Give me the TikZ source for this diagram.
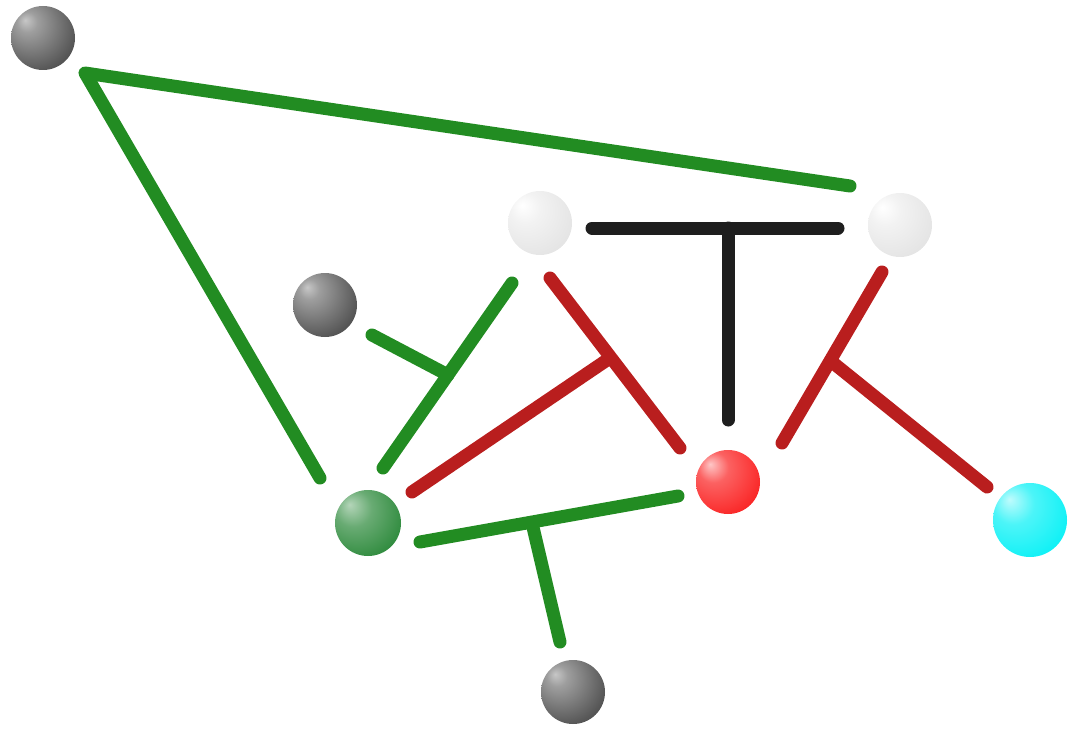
\documentclass[tikz,border=0pt]{standalone}
\definecolor{gstk}{RGB}{34,140,34}
\definecolor{rstk}{RGB}{185,30,30}
\definecolor{kstk}{RGB}{30,30,30}
\definecolor{redb}{RGB}{250,30,30}
\definecolor{cyanb}{RGB}{0,240,245}
\definecolor{greenb}{RGB}{40,135,55}
\pgfdeclareradialshading{balldark}{\pgfpoint{-14bp}{14bp}}{color(0bp)=(black!22); color(8bp)=(black!38); color(32bp)=(black!65); color(52bp)=(black!85); color(70bp)=(black!90)}
\pgfdeclareradialshading{balllight}{\pgfpoint{-14bp}{14bp}}{color(0bp)=(white); color(12bp)=(black!5); color(45bp)=(black!13); color(70bp)=(black!22)}
\pgfdeclareradialshading{ballred}{\pgfpoint{-14bp}{14bp}}{color(0bp)=(redb!25!white); color(12bp)=(redb!70!white); color(38bp)=(redb); color(70bp)=(redb!85!black)}
\pgfdeclareradialshading{ballcyan}{\pgfpoint{-14bp}{14bp}}{color(0bp)=(cyanb!25!white); color(14bp)=(cyanb!70!white); color(40bp)=(cyanb); color(70bp)=(cyanb!92!black)}
\pgfdeclareradialshading{ballgreen}{\pgfpoint{-14bp}{14bp}}{color(0bp)=(greenb!35!white); color(14bp)=(greenb!70!white); color(38bp)=(greenb); color(70bp)=(greenb!75!black)}
\begin{document}
\begin{tikzpicture}[x=1pt,y=-1pt,
  ball/.style={circle,minimum size=64pt,inner sep=0pt},
  stick/.style={line width=13pt,line cap=round,line join=round},
  gstick/.style={stick,draw=gstk},
  rstick/.style={stick,draw=rstk},
  kstick/.style={stick,draw=kstk}]
\useasboundingbox (0,0) rectangle (1068,733);
% spheres
\node[ball,shading=balldark] (d1) at (43,38) {};
\node[ball,shading=balldark] (d2) at (325,305) {};
\node[ball,shading=balldark] (d3) at (573,692) {};
\node[ball,shading=balllight] (w1) at (540,223) {};
\node[ball,shading=balllight] (w2) at (900,225) {};
\node[ball,shading=ballred] (r1) at (728,482) {};
\node[ball,shading=ballcyan,minimum size=74pt] (c1) at (1030,520) {};
\node[ball,shading=ballgreen,minimum size=66pt] (g1) at (368,523) {};
% coordinates
\coordinate (a1) at (85,73);
\coordinate (a2) at (850,186);
\coordinate (a3) at (320,478);
\coordinate (k1) at (592,228);
\coordinate (k2) at (838,228);
\coordinate (kj) at (728,228);
\coordinate (k3) at (728,420);
\coordinate (gy1) at (512,283);
\coordinate (gy2) at (383,468);
\coordinate (gyj) at (448,375);
\coordinate (gy3) at (372,335);
\coordinate (rl1) at (412,492);
\coordinate (rlj) at (607,360);
\coordinate (rl2) at (550,278);
\coordinate (rl3) at (680,448);
\coordinate (rr1) at (882,272);
\coordinate (rr2) at (782,443);
\coordinate (rrj) at (832,362);
\coordinate (rr3) at (987,487);
\coordinate (gb1) at (420,542);
\coordinate (gb2) at (678,496);
\coordinate (gbj) at (532,523);
\coordinate (gb3) at (560,642);
% sticks
\draw[gstick] (a2) -- (a1) -- (a3);
\draw[kstick] (k1) -- (k2);
\draw[kstick] (kj) -- (k3);
\draw[gstick] (gy1) -- (gy2);
\draw[gstick] (gyj) -- (gy3);
\draw[rstick] (rl2) -- (rl3);
\draw[rstick] (rlj) -- (rl1);
\draw[rstick] (rr1) -- (rr2);
\draw[rstick] (rrj) -- (rr3);
\draw[gstick] (gb1) -- (gb2);
\draw[gstick] (gbj) -- (gb3);
\end{tikzpicture}
\end{document}
